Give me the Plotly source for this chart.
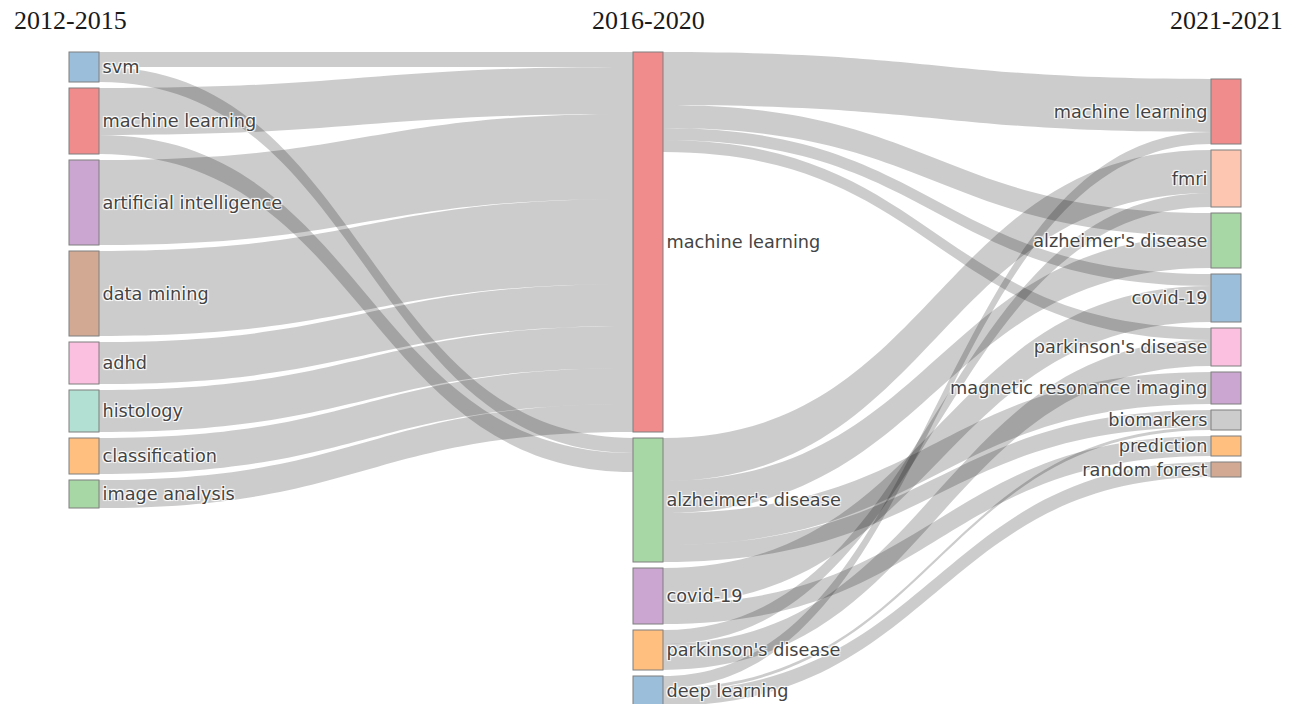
import plotly.graph_objects as go

# ---------------- data ----------------
periods = ["2012-2015", "2016-2020", "2021-2021"]

left_nodes = ["svm", "machine learning", "artificial intelligence", "data mining",
              "adhd", "histology", "classification", "image analysis"]
mid_nodes = ["machine learning", "alzheimer's disease", "covid-19",
             "parkinson's disease", "deep learning"]
right_nodes = ["machine learning", "fmri", "alzheimer's disease", "covid-19",
               "parkinson's disease", "magnetic resonance imaging", "biomarkers",
               "prediction", "random forest"]

# links 2012-2015 -> 2016-2020
lm_source = ["svm", "svm", "machine learning", "machine learning",
             "artificial intelligence", "data mining", "adhd", "histology",
             "classification", "image analysis"]
lm_target = ["machine learning", "alzheimer's disease", "machine learning",
             "alzheimer's disease", "machine learning", "machine learning",
             "machine learning", "machine learning", "machine learning",
             "machine learning"]
lm_value = [15, 15, 47, 19, 85, 85, 42, 42, 36, 28]

# links 2016-2020 -> 2021-2021
mr_source = ["machine learning", "machine learning", "machine learning", "machine learning",
             "alzheimer's disease", "alzheimer's disease", "alzheimer's disease",
             "alzheimer's disease",
             "covid-19", "covid-19",
             "parkinson's disease", "parkinson's disease",
             "deep learning", "deep learning", "deep learning"]
mr_target = ["machine learning", "alzheimer's disease", "covid-19", "parkinson's disease",
             "fmri", "alzheimer's disease", "magnetic resonance imaging", "biomarkers",
             "covid-19", "prediction",
             "parkinson's disease", "fmri",
             "machine learning", "biomarkers", "random forest"]
mr_value = [53, 23, 12, 12,
            43, 32, 32, 17,
            36, 20,
            26, 14,
            12, 3, 15]

left_colors = ["#9BBEDB", "#F18C8D", "#CBA6D1", "#D2AA93", "#FBC0DF", "#B2E0D2", "#FFBF7F", "#A6D7A4"]
mid_colors = ["#F18C8D", "#A6D7A4", "#CBA6D1", "#FFBF7F", "#9BBEDB"]
right_colors = ["#F18C8D", "#FDC6B0", "#A6D7A4", "#9BBEDB", "#FBC0DF", "#CBA6D1", "#CCCCCC", "#FFBF7F", "#D2AA93"]

# ---------------- layout parameters ----------------
FIG_W, FIG_H = 1300, 704
PAD = 6
THICK = 30
M_T = 52
col_center_px = [84, 648, 1226]     # horizontal centre of each period column
col_top_px = [0, 0, 27]             # offset of the first node below the plot top

columns = [left_nodes, mid_nodes, right_nodes]
labels = left_nodes + mid_nodes + right_nodes
colors = left_colors + mid_colors + right_colors
offsets = [0, len(left_nodes), len(left_nodes) + len(mid_nodes)]

src, tgt, val = [], [], []
for s, t, v in zip(lm_source, lm_target, lm_value):
    src.append(offsets[0] + left_nodes.index(s))
    tgt.append(offsets[1] + mid_nodes.index(t))
    val.append(v)
for s, t, v in zip(mr_source, mr_target, mr_value):
    src.append(offsets[1] + mid_nodes.index(s))
    tgt.append(offsets[2] + right_nodes.index(t))
    val.append(v)

n = len(labels)
vin = [0] * n
vout = [0] * n
for s, t, v in zip(src, tgt, val):
    vout[s] += v
    vin[t] += v
nval = [max(a, b) for a, b in zip(vin, vout)]

# plotly's sankey scales node length with its own (automatic) columns:
# sources without inflow share the first column, sinks the last one.
depth = []
for i in range(n):
    if vin[i] == 0:
        depth.append(0)
    elif vout[i] == 0:
        depth.append(2)
    else:
        depth.append(1)
auto_cols = {}
for i, d in enumerate(depth):
    auto_cols.setdefault(d, []).append(i)
first = auto_cols[0]
# plot height chosen so one value unit = one pixel
PLOT_H = sum(nval[i] for i in first) + (len(first) - 1) * PAD
M_B = FIG_H - M_T - PLOT_H
ky = min((PLOT_H - (len(c) - 1) * PAD) / sum(nval[i] for i in c) for c in auto_cols.values())

node_x, node_y = [], []
for k, c in enumerate(columns):
    y = col_top_px[k]
    for i in range(len(c)):
        h = nval[offsets[k] + i] * ky
        node_x.append(col_center_px[k] / FIG_W)
        node_y.append((y + h / 2) / PLOT_H)
        y += h + PAD

fig = go.Figure(go.Sankey(
    arrangement="fixed",
    domain=dict(x=[0, 1], y=[0, 1]),
    node=dict(label=labels, color=colors, pad=PAD, thickness=THICK,
              x=node_x, y=node_y,
              line=dict(color="#7f7f7f", width=1)),
    link=dict(source=src, target=tgt, value=val, color="rgba(0,0,0,0.2)"),
    textfont=dict(family="DejaVu Sans", size=17.7, color="#444"),
))

title_x_px = [12, col_center_px[1], col_center_px[2]]
title_anchor = ["left", "center", "center"]
for txt, xp, a in zip(periods, title_x_px, title_anchor):
    fig.add_annotation(text=txt, x=xp / FIG_W, xanchor=a,
                       y=1 + (M_T - 20) / PLOT_H, yanchor="middle",
                       xref="paper", yref="paper", showarrow=False,
                       font=dict(family="Liberation Serif", size=26, color="#1a1a1a"))

fig.update_layout(width=FIG_W, height=FIG_H,
                  margin=dict(l=0, r=0, t=M_T, b=M_B),
                  paper_bgcolor="white", plot_bgcolor="white")

fig.write_html("out.html", config={"displayModeBar": False},
               post_script="document.body.style.margin='0';")
